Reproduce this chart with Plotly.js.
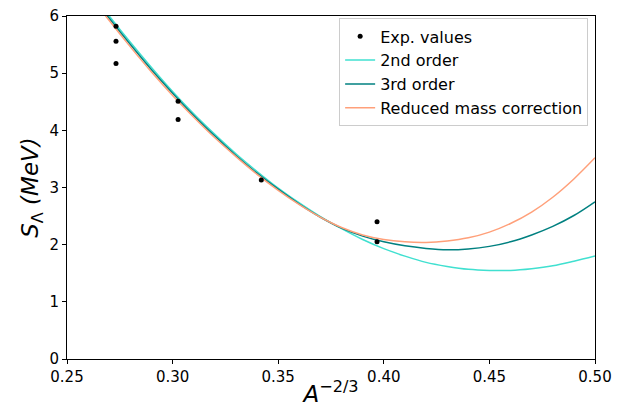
<!DOCTYPE html>
<html>
<head>
<meta charset="utf-8">
<script src="https://cdn.plot.ly/plotly-3.0.1.min.js"></script>
<style>html,body{margin:0;padding:0;background:#fff;}#chart{width:627px;height:410px;}</style>
</head>
<body>
<div id="chart"></div>
<script>
// Experimental values (A = 7, 6, 5, 4)
const expX = [0.2732, 0.2732, 0.2732, 0.3026, 0.3026, 0.3420, 0.3968, 0.3968];
const expY = [5.82, 5.56, 5.17, 4.51, 4.19, 3.13, 2.40, 2.05];

const curveX = [0.26, 0.27, 0.28, 0.29, 0.30, 0.31, 0.32, 0.33, 0.34, 0.35, 0.36, 0.37, 0.38,
                0.39, 0.40, 0.41, 0.42, 0.43, 0.44, 0.45, 0.46, 0.47, 0.48, 0.49, 0.50];
const secondOrder = [6.48, 6.00, 5.54, 5.10, 4.68, 4.29, 3.93, 3.59, 3.28, 2.99, 2.73, 2.49, 2.28,
                     2.09, 1.93, 1.80, 1.69, 1.62, 1.57, 1.55, 1.55, 1.58, 1.63, 1.71, 1.80];
const thirdOrder  = [6.44, 5.96, 5.50, 5.06, 4.65, 4.26, 3.90, 3.56, 3.25, 2.97, 2.71, 2.48, 2.29,
                     2.15, 2.05, 1.98, 1.935, 1.91, 1.925, 1.97, 2.05, 2.17, 2.32, 2.51, 2.75];
const reducedMass = [6.40, 5.92, 5.46, 5.02, 4.61, 4.23, 3.87, 3.54, 3.23, 2.95, 2.70, 2.48, 2.30,
                     2.17, 2.09, 2.05, 2.04, 2.065, 2.12, 2.22, 2.37, 2.57, 2.83, 3.15, 3.52];

const xTicks = [0.25, 0.30, 0.35, 0.40, 0.45, 0.50];
const xTickText = ["0.25", "0.30", "0.35", "0.40", "0.45", "0.50"];
const yTicks = [0, 1, 2, 3, 4, 5, 6];

const FONT = "DejaVu Sans, sans-serif";

const traces = [
  {x: curveX, y: secondOrder, mode: "lines", name: "2nd order", legendrank: 2,
   line: {color: "#40E0D0", width: 1.5, shape: "spline", smoothing: 1}},
  {x: curveX, y: thirdOrder, mode: "lines", name: "3rd order", legendrank: 3,
   line: {color: "#008080", width: 1.5, shape: "spline", smoothing: 1}},
  {x: curveX, y: reducedMass, mode: "lines", name: "Reduced mass correction", legendrank: 4,
   line: {color: "#FFA07A", width: 1.5, shape: "spline", smoothing: 1}},
  {x: expX, y: expY, mode: "markers", name: "Exp. values", legendrank: 1,
   marker: {color: "#000000", size: 5}}
];

const axisCommon = {
  showgrid: false, zeroline: false, showline: true, mirror: true,
  linecolor: "#000", linewidth: 1, ticks: "outside", ticklen: 4, tickwidth: 1,
  tickcolor: "#000", tickfont: {family: FONT, size: 15, color: "#000"}
};

const layout = {
  width: 627, height: 410,
  margin: {l: 67, r: 32, t: 16, b: 51},
  paper_bgcolor: "#fff", plot_bgcolor: "#fff",
  showlegend: true,
  legend: {
    x: 0.987, xanchor: "right", y: 0.993, yanchor: "top",
    bgcolor: "rgba(255,255,255,0.8)", bordercolor: "#cccccc", borderwidth: 1,
    itemwidth: 30,
    font: {family: FONT, size: 16, color: "#000"}
  },
  xaxis: Object.assign({}, axisCommon, {
    range: [0.25, 0.50], tickvals: xTicks, ticktext: xTickText,
    title: {text: "<i>A</i><sup>−2/3</sup>", font: {family: FONT, size: 23, color: "#000"}, standoff: 0}
  }),
  yaxis: Object.assign({}, axisCommon, {
    range: [0, 6], tickvals: yTicks,
    title: {text: "<i>S</i><sub>Λ</sub><i> (MeV)</i>", font: {family: FONT, size: 23, color: "#000"}, standoff: 4}
  })
};

Plotly.newPlot("chart", traces, layout, {displayModeBar: false, staticPlot: true});
</script>
</body>
</html>
